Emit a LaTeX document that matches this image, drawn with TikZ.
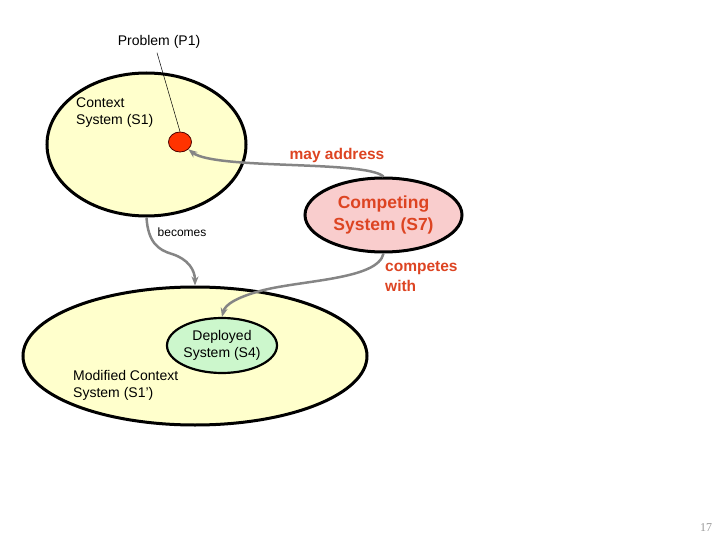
\documentclass[tikz,border=0pt]{standalone}
\usepackage{fontspec}
\setmainfont{Liberation Sans}
\newfontfamily\pagefont{Liberation Serif}
\usetikzlibrary{shapes.geometric,arrows.meta}
\definecolor{ctxfill}{HTML}{FFFFCC}
\definecolor{compfill}{HTML}{F9CDCD}
\definecolor{depfill}{HTML}{CCF7CC}
\definecolor{redtext}{HTML}{DD4422}
\definecolor{dotred}{HTML}{FF3300}
\definecolor{arrowgray}{HTML}{858585}
\tikzset{
  sysell/.style={ellipse, draw=black, line width=3pt, inner sep=0pt},
  lbl/.style={font=\fontsize{14}{17}\selectfont, inner sep=0pt, align=left},
  redlbl/.style={font=\bfseries\fontsize{15.5}{20}\selectfont, text=redtext, inner sep=0pt, align=left},
  conn/.style={draw=arrowgray, line width=2.5pt, -{Stealth[length=9pt,width=7pt]}},
}
\begin{document}
\begin{tikzpicture}[x=1pt,y=-1pt]
\useasboundingbox (0,0) rectangle (720,540);
% ellipses
\node[sysell, fill=ctxfill, minimum width=199pt, minimum height=143pt] (s1) at (146.5,144.5) {};
\node[sysell, fill=ctxfill, minimum width=344pt, minimum height=138pt] (s1p) at (195,356) {};
\node[sysell, fill=depfill, line width=2.2pt, minimum width=110pt, minimum height=55pt,
      font=\fontsize{14}{17}\selectfont, align=center] (s4) at (222,345.5) {Deployed\\System (S4)};
\node[sysell, fill=compfill, minimum width=157pt, minimum height=74pt,
      font=\bfseries\fontsize{17.5}{22}\selectfont, text=redtext, align=center] (s7) at (383.5,215) {Competing\\System (S7)};
\node[ellipse, draw=black!70!red, fill=dotred, line width=0.8pt, minimum width=23pt, minimum height=20pt, inner sep=0pt] (dot) at (180,142) {};
% labels
\node[lbl] (p1) at (159,42) {Problem (P1)};
\node[lbl, anchor=west] (s1lbl) at (76,112.5) {Context\\System (S1)};
\node[lbl, anchor=west] (s1plbl) at (73,385) {Modified Context\\System (S1\char"0027)};
\node[lbl, font=\fontsize{12}{14}\selectfont] (becomes) at (182,232) {becomes};
\node[redlbl] (mayaddr) at (337,155) {may address};
\node[redlbl, anchor=west] (competes) at (385,277) {competes\\with};
\node[font=\pagefont\fontsize{12}{14}\selectfont, text=gray!80, inner sep=0pt] (pg) at (706,528) {17};
% connectors
\draw[line width=0.5pt] ([xshift=-2pt,yshift=-4pt]p1.south) -- (dot.north);
\draw[conn] (s7.north) .. controls (365,160) and (215,170) .. (dot.south east);
\draw[conn] (s1.south) .. controls (148,242) and (158,250) .. (172,254)
                        .. controls (188,259) and (195,270) .. (s1p.north);
\draw[conn] (s7.south) .. controls (378,280) and (300,280) .. (260,291)
                        .. controls (235,298) and (225,305) .. (s4.north);
\end{tikzpicture}
\end{document}
